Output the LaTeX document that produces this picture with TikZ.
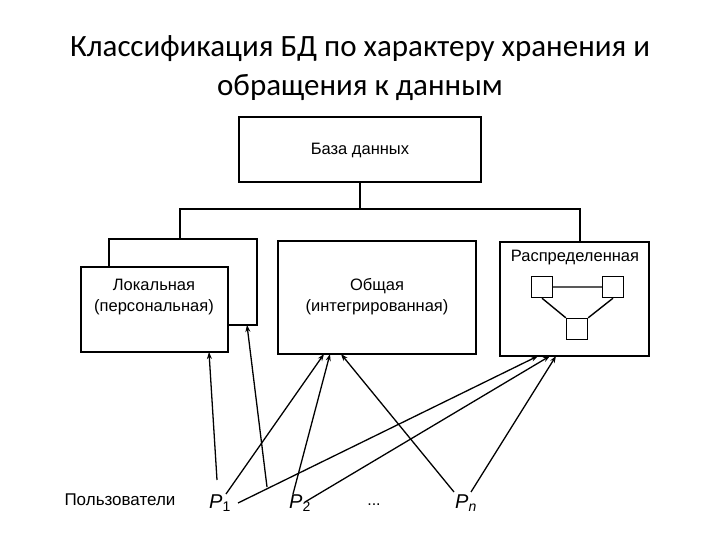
\documentclass[tikz,border=0pt]{standalone}
\usepackage{fontspec}
\setmainfont{Liberation Sans}
\newfontfamily\titlefont{Carlito}
\usetikzlibrary{arrows.meta}
\begin{document}
\begin{tikzpicture}[x=1pt,y=-1pt,
  box/.style={draw,line width=2.2pt,fill=white},
  lbl/.style={font=\fontsize{16.5}{21}\selectfont,align=center},
  usr/.style={font=\fontsize{20}{20}\selectfont\itshape},
  arr/.style={line width=1.3pt,-{Stealth[length=7pt,width=5pt]}},
  sq/.style={draw,line width=1.4pt,minimum width=21pt,minimum height=21pt,inner sep=0pt}]
\useasboundingbox (0,0) rectangle (720,540);
\node[font=\titlefont\fontsize{31}{39}\selectfont,align=center] (title) at (360,68)
  {Классификация БД по характеру хранения и\\обращения к данным};
\draw[box] (239,117) rectangle (481,182);
\node[lbl] (db) at (360,150) {База данных};
\coordinate (bar) at (360,209);
\draw[line width=2.2pt] (360,182) -- (bar);
\draw[line width=2.2pt] (180,239) -- (180,209) -- (580,209) -- (580,242);
\draw[box] (109,239) rectangle (257,325);
\draw[box] (81,267) rectangle (228,352);
\node[lbl] (loc) at (154,297) {Локальная\\(персональная)};
\draw[box] (278,241) rectangle (476,354);
\node[lbl] (gen) at (377,297) {Общая\\(интегрированная)};
\draw[box] (500,242) rectangle (649,356);
\node[lbl] (dist) at (575,258) {Распределенная};
\node[sq] (s1) at (542,287) {};
\node[sq] (s2) at (613,287) {};
\node[sq] (s3) at (577,329) {};
\draw[line width=1.4pt] (s1) -- (s2) (s1.south) -- (s3.north west) (s2.south) -- (s3.north east);
\node[font=\fontsize{17}{18}\selectfont] (users) at (120,500) {Пользователи};
\node[usr] (p1) at (220,503) {P\textsubscript{\upshape 1}};
\node[usr] (p2) at (300,503) {P\textsubscript{\upshape 2}};
\node[usr] (pn) at (466,503) {P\textsubscript{n}};
\node[font=\fontsize{16}{16}\selectfont] (dots) at (374,505) {...};
\coordinate (a1) at (209,352);
\coordinate (a2) at (247,325);
\coordinate (m1) at (324,354);
\coordinate (m2) at (330,354);
\coordinate (m3) at (341,354);
\coordinate (r1) at (538,356);
\coordinate (r2) at (550,356);
\coordinate (r3) at (556,356);
\draw[arr] (217,480) -- (a1);
\draw[arr] (267,487) -- (a2);
\draw[arr] (226,494) -- (m1);
\draw[arr] (238,503) -- (r1);
\draw[arr] (293,494) -- (m2);
\draw[arr] (305,502) -- (r2);
\draw[arr] (454,492) -- (m3);
\draw[arr] (471,492) -- (r3);
\end{tikzpicture}
\end{document}
